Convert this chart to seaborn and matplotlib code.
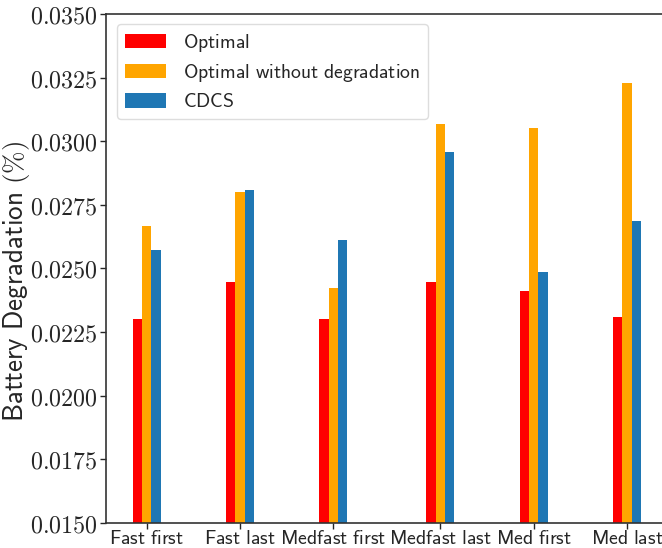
import numpy as np
import pandas as pd
import matplotlib
matplotlib.use("Agg")
import matplotlib.pyplot as plt
from matplotlib.ticker import FuncFormatter, FixedLocator
import seaborn as sns

# Scenario labels and degradation results for each strategy
scenarios = ["Fast first", "Fast last", "Medfast first", "Medfast last", "Med first", "Med last"]
optimal = [0.02301, 0.02447, 0.02301, 0.02447, 0.02411, 0.02309]
optimal_no_deg = [0.02667, 0.02801, 0.02423, 0.03068, 0.03053, 0.03230]
cdcs = [0.02573, 0.02809, 0.02612, 0.02958, 0.02486, 0.02687]
strategies = ["Optimal", "Optimal without degradation", "CDCS"]
yticks = [0.0150, 0.0175, 0.0200, 0.0225, 0.0250, 0.0275, 0.0300, 0.0325, 0.0350]

sns.set_style("ticks")
plt.rcParams["mathtext.fontset"] = "cm"
plt.rcParams["font.family"] = ["DejaVu Sans"]

# Group centres along the x axis (the "last" half of the medium-fast block is spaced a bit wider)
idx = np.arange(len(scenarios))
centres = idx + np.where(idx >= 3, 0.15, 0.0)

df = pd.DataFrame({
    "pos": np.tile(centres, 3),
    "scenario": scenarios * 3,
    "strategy": np.repeat(strategies, len(scenarios)),
    "value": optimal + optimal_no_deg + cdcs,
})

palette = {"Optimal": "#ff0000", "Optimal without degradation": "#ffa500", "CDCS": "#1f77b4"}

fig = plt.figure(figsize=(6.62, 5.48), dpi=100)
ax = fig.add_axes([0.1601, 0.0462, 0.8716, 0.9277])

sns.barplot(data=df, x="pos", y="value", hue="strategy", hue_order=strategies,
            palette=palette, native_scale=True, width=0.3, dodge=True,
            saturation=1, errorbar=None, linewidth=0, ax=ax)

ax.set_xlim(-0.436, 5.75)
ax.set_ylim(0.015, 0.035)

def sf(s):
    return r"$\mathsf{" + s.replace(" ", r"\ ") + "}$"

ax.xaxis.set_major_locator(FixedLocator(centres))
ax.set_xticklabels([sf(s) for s in scenarios], fontsize=14.3)
ax.yaxis.set_major_locator(FixedLocator(yticks))
ax.yaxis.set_major_formatter(FuncFormatter(lambda v, p: rf"${v:.4f}$"))
ax.tick_params(axis="y", labelsize=17.3, length=4, width=1, pad=2)
ax.tick_params(axis="x", length=4, width=1, pad=0.5)

ax.set_xlabel("")
ax.set_ylabel(r"$\mathsf{Battery\ Degradation}\ (\%)$", fontsize=19.5)
ax.yaxis.set_label_coords(-0.128, 0.475)

for side in ["left", "bottom", "top", "right"]:
    ax.spines[side].set_color("#333333")
    ax.spines[side].set_linewidth(1.2)

handles, labels = ax.get_legend_handles_labels()
ax.legend(handles, [sf(l) for l in labels], loc="upper left",
          bbox_to_anchor=(0.019, 0.981), borderaxespad=0, fontsize=14.2, frameon=True,
          handlelength=2.1, handleheight=0.75, borderpad=0.4, labelspacing=0.42,
          handletextpad=0.85, edgecolor="#dddddd", framealpha=1.0)

fig.savefig("out.png", dpi=100)
